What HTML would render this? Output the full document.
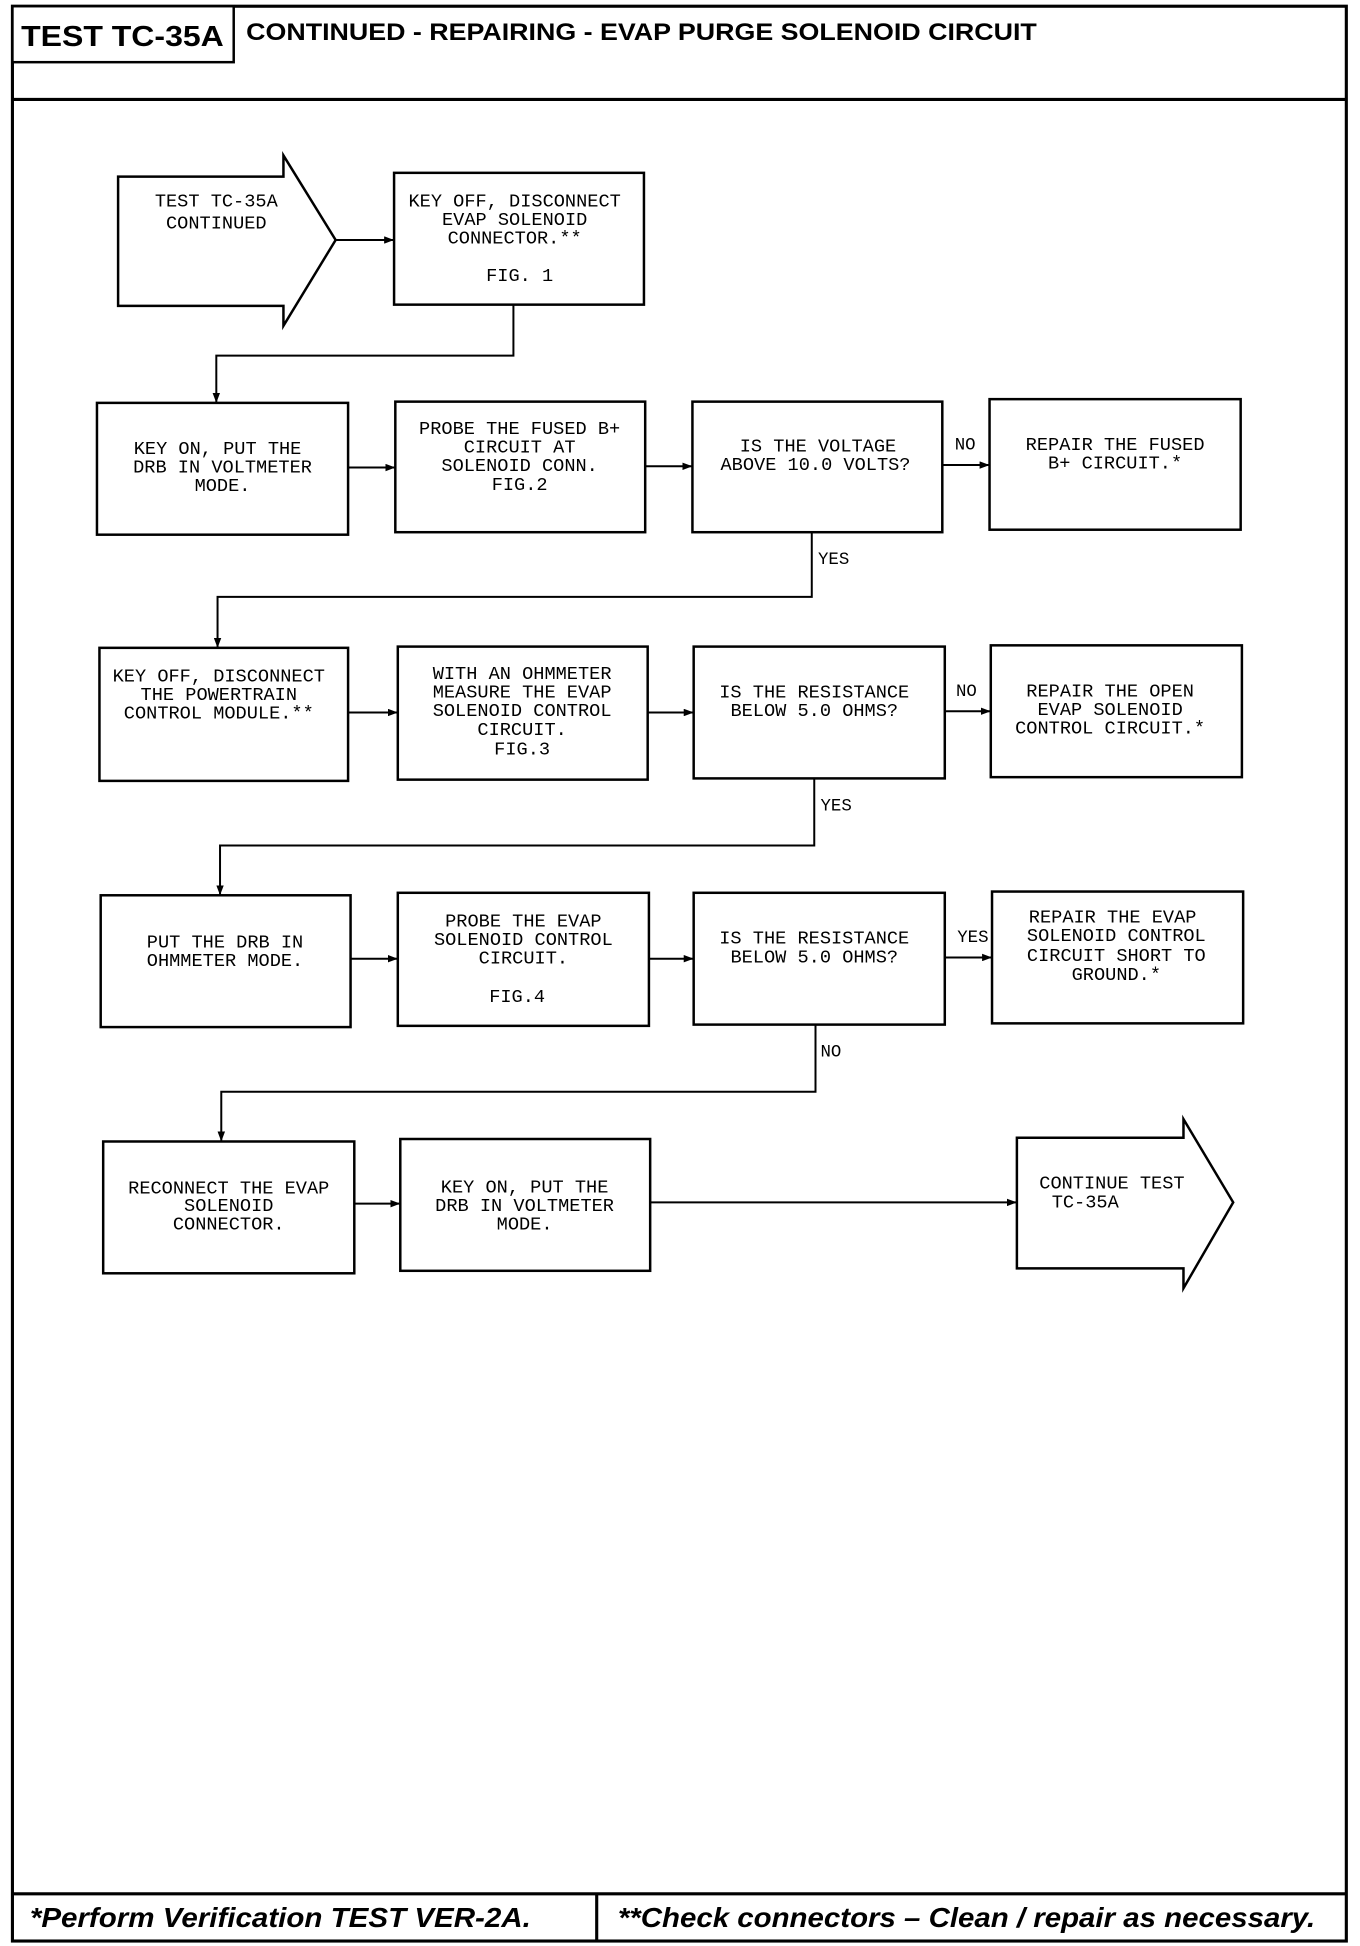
<!DOCTYPE html>
<html><head><meta charset="utf-8"><style>
html,body{margin:0;padding:0;background:#fff;width:1360px;height:1946px;overflow:hidden}
svg{display:block}
.t{font-family:"Liberation Mono",monospace;font-size:15px;fill:#000;text-anchor:middle;dominant-baseline:middle}
.l{font-family:"Liberation Mono",monospace;font-size:14px;fill:#000;dominant-baseline:middle}
rect,polygon{fill:#fff;stroke:#000;stroke-width:2}
path{fill:none;stroke:#000;stroke-width:1.6}
</style></head><body>
<svg width="1360" height="1946" viewBox="0 0 1094 1565" preserveAspectRatio="none">
<defs><marker id="a" markerWidth="8" markerHeight="6" refX="8" refY="3" orient="auto" markerUnits="userSpaceOnUse"><path d="M0,0 L8,3 L0,6 z" style="fill:#000;stroke:none"/></marker></defs>
<rect x="10" y="5" width="1073" height="1556" style="stroke-width:2.5"/>
<path d="M10 80 H1083" style="stroke-width:2.5"/>
<rect x="10" y="5" width="178" height="45"/>
<text x="17" y="31" textLength="163" lengthAdjust="spacingAndGlyphs" style="font-family:'Liberation Sans',sans-serif;font-weight:bold;font-size:23px;dominant-baseline:middle">TEST TC-35A</text>
<text x="198" y="27" textLength="636" lengthAdjust="spacingAndGlyphs" style="font-family:'Liberation Sans',sans-serif;font-weight:bold;font-size:19px;dominant-baseline:middle">CONTINUED - REPAIRING - EVAP PURGE SOLENOID CIRCUIT</text>
<path d="M10 1523 H1083 M480 1523 V1561" style="stroke-width:2.5"/>
<text x="24" y="1544" textLength="403" lengthAdjust="spacingAndGlyphs" style="font-family:'Liberation Sans',sans-serif;font-weight:bold;font-style:italic;font-size:22px;dominant-baseline:middle">*Perform Verification TEST VER-2A.</text>
<text x="497" y="1544" textLength="561" lengthAdjust="spacingAndGlyphs" style="font-family:'Liberation Sans',sans-serif;font-weight:bold;font-style:italic;font-size:22px;dominant-baseline:middle">**Check connectors – Clean / repair as necessary.</text>

<polygon points="95,142 228,142 228,125 270,193 228,262 228,246 95,246"/>
<text class="t" x="174" y="162">TEST TC-35A</text><text class="t" x="174" y="180">CONTINUED</text>
<rect x="317" y="139" width="201" height="106"/>
<text class="t" x="414" y="162">KEY OFF, DISCONNECT</text><text class="t" x="414" y="177">EVAP SOLENOID</text><text class="t" x="414" y="192">CONNECTOR.**</text><text class="t" x="418" y="222">FIG. 1</text>
<path d="M270 193 H317" marker-end="url(#a)"/>
<path d="M413 245 V286 H174 V324" marker-end="url(#a)"/>

<rect x="78" y="324" width="202" height="106"/>
<text class="t" x="175" y="361">KEY ON, PUT THE</text><text class="t" x="179" y="376">DRB IN VOLTMETER</text><text class="t" x="179" y="391">MODE.</text>
<rect x="318" y="323" width="201" height="105"/>
<text class="t" x="418" y="345">PROBE THE FUSED B+</text><text class="t" x="418" y="360">CIRCUIT AT</text><text class="t" x="418" y="375">SOLENOID CONN.</text><text class="t" x="418" y="390">FIG.2</text>
<rect x="557" y="323" width="201" height="105"/>
<text class="t" x="658" y="359">IS THE VOLTAGE</text><text class="t" x="656" y="374">ABOVE 10.0 VOLTS?</text>
<rect x="796" y="321" width="202" height="105"/>
<text class="t" x="897" y="358">REPAIR THE FUSED</text><text class="t" x="897" y="373">B+ CIRCUIT.*</text>
<path d="M280 376 H318" marker-end="url(#a)"/><path d="M519 375 H557" marker-end="url(#a)"/><path d="M758 374 H796" marker-end="url(#a)"/>
<text class="l" x="768" y="358">NO</text><text class="l" x="658" y="450">YES</text>
<path d="M653 428 V480 H175 V521" marker-end="url(#a)"/>

<rect x="80" y="521" width="200" height="107"/>
<text class="t" x="176" y="544">KEY OFF, DISCONNECT</text><text class="t" x="176" y="559">THE POWERTRAIN</text><text class="t" x="176" y="574">CONTROL MODULE.**</text>
<rect x="320" y="520" width="201" height="107"/>
<text class="t" x="420" y="542">WITH AN OHMMETER</text><text class="t" x="420" y="557">MEASURE THE EVAP</text><text class="t" x="420" y="572">SOLENOID CONTROL</text><text class="t" x="420" y="587">CIRCUIT.</text><text class="t" x="420" y="603">FIG.3</text>
<rect x="558" y="520" width="202" height="106"/>
<text class="t" x="655" y="557">IS THE RESISTANCE</text><text class="t" x="655" y="572">BELOW 5.0 OHMS?</text>
<rect x="797" y="519" width="202" height="106"/>
<text class="t" x="893" y="556">REPAIR THE OPEN</text><text class="t" x="893" y="571">EVAP SOLENOID</text><text class="t" x="893" y="586">CONTROL CIRCUIT.*</text>
<path d="M280 573 H320" marker-end="url(#a)"/><path d="M521 573 H558" marker-end="url(#a)"/><path d="M760 572 H797" marker-end="url(#a)"/>
<text class="l" x="769" y="556">NO</text><text class="l" x="660" y="648">YES</text>
<path d="M655 626 V680 H177 V720" marker-end="url(#a)"/>

<rect x="81" y="720" width="201" height="106"/>
<text class="t" x="181" y="758">PUT THE DRB IN</text><text class="t" x="181" y="773">OHMMETER MODE.</text>
<rect x="320" y="718" width="202" height="107"/>
<text class="t" x="421" y="741">PROBE THE EVAP</text><text class="t" x="421" y="756">SOLENOID CONTROL</text><text class="t" x="421" y="771">CIRCUIT.</text><text class="t" x="416" y="802">FIG.4</text>
<rect x="558" y="718" width="202" height="106"/>
<text class="t" x="655" y="755">IS THE RESISTANCE</text><text class="t" x="655" y="770">BELOW 5.0 OHMS?</text>
<rect x="798" y="717" width="202" height="106"/>
<text class="t" x="895" y="738">REPAIR THE EVAP</text><text class="t" x="898" y="753">SOLENOID CONTROL</text><text class="t" x="898" y="769">CIRCUIT SHORT TO</text><text class="t" x="898" y="784">GROUND.*</text>
<path d="M282 771 H320" marker-end="url(#a)"/><path d="M522 771 H558" marker-end="url(#a)"/><path d="M760 770 H798" marker-end="url(#a)"/>
<text class="l" x="770" y="754">YES</text><text class="l" x="660" y="846">NO</text>
<path d="M656 824 V878 H178 V918" marker-end="url(#a)"/>

<rect x="83" y="918" width="202" height="106"/>
<text class="t" x="184" y="956">RECONNECT THE EVAP</text><text class="t" x="184" y="970">SOLENOID</text><text class="t" x="184" y="985">CONNECTOR.</text>
<rect x="322" y="916" width="201" height="106"/>
<text class="t" x="422" y="955">KEY ON, PUT THE</text><text class="t" x="422" y="970">DRB IN VOLTMETER</text><text class="t" x="422" y="985">MODE.</text>
<polygon points="818,915 952,915 952,900 992,967 952,1036 952,1020 818,1020"/>
<text class="l" x="836" y="952" style="font-size:15px">CONTINUE TEST</text><text class="l" x="846" y="967" style="font-size:15px">TC-35A</text>
<path d="M285 968 H322" marker-end="url(#a)"/><path d="M523 967 H818" marker-end="url(#a)"/>
</svg>
</body></html>
